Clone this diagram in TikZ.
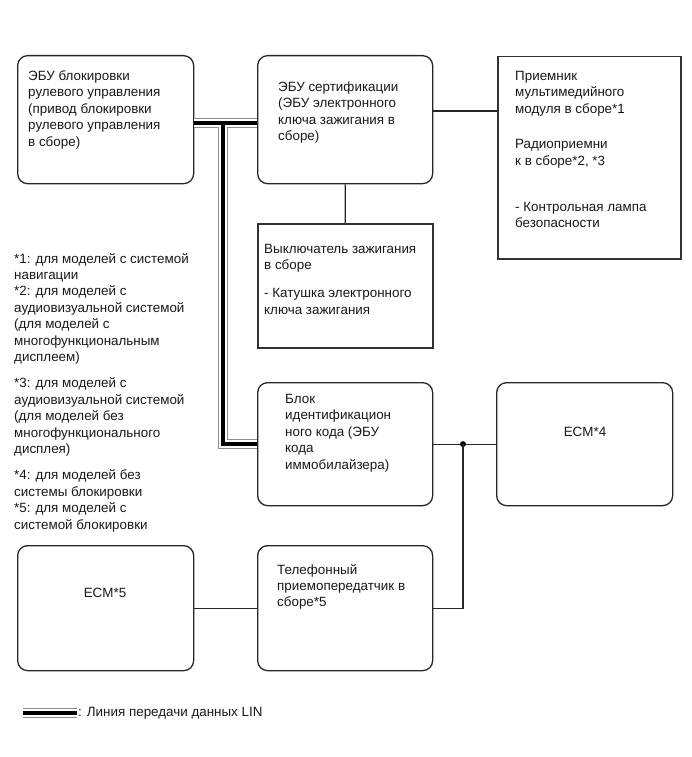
\documentclass[tikz,border=0pt]{standalone}
\usepackage{fontspec}
\setmainfont{Liberation Sans}
\begin{document}
\begin{tikzpicture}[x=1pt,y=-1pt,
  box/.style={draw=black!85, line width=1.3pt, rounded corners=10pt, fill=white, inner sep=0, anchor=north west},
  sqbox/.style={draw=black!80, line width=1.5pt, fill=white, inner sep=0, anchor=north west},
  txt/.style={anchor=north west, inner sep=0, align=left, text=black!90, font=\fontsize{13.4}{16.4}\selectfont},
  ctxt/.style={inner sep=0, text=black!90, font=\fontsize{13.4}{16.4}\selectfont},
  wire/.style={draw=black!85, line width=1.2pt},
  linG/.style={draw=black!45, line width=10pt},
  linW/.style={draw=white, line width=7.6pt},
  linB/.style={draw=black, line width=4pt}
]
\useasboundingbox (0,0) rectangle (691,757);

% boxes
\node[box, minimum width=176pt, minimum height=128pt] (steer) at (17,55) {};
\node[box, minimum width=175pt, minimum height=128pt] (cert) at (257,55) {};
\node[sqbox, minimum width=183pt, minimum height=202pt] (recv) at (497,56) {};
\node[sqbox, minimum width=175pt, minimum height=124pt] (ign) at (257,223) {};
\node[box, minimum width=175pt, minimum height=123pt] (idb) at (257,382) {};
\node[box, minimum width=176pt, minimum height=123pt] (ecmf) at (496,382) {};
\node[box, minimum width=176pt, minimum height=125pt] (ecmv) at (17,545) {};
\node[box, minimum width=175pt, minimum height=125pt] (tel) at (257,545) {};

% texts
\node[txt] (tsteer) at (28,70.5) {ЭБУ блокировки\\рулевого управления\\(привод блокировки\\рулевого управления\\в сборе)};
\node[txt] (tcert) at (278,81.5) {ЭБУ сертификации\\(ЭБУ электронного\\ключа зажигания в\\сборе)};
\node[txt] (trecv) at (515,71) {Приемник\\мультимедийного\\модуля в сборе*1\\[19pt]Радиоприемни\\к в сборе*2, *3\\[30pt]- Контрольная лампа\\безопасности};
\node[txt] (tign) at (264,244) {Выключатель зажигания\\в сборе\\[11.5pt]- Катушка электронного\\ключа зажигания};
\node[txt] (tid) at (285,394) {Блок\\идентификацион\\ного кода (ЭБУ\\кода\\иммобилайзера)};
\node[txt] (ttel) at (277,564) {Телефонный\\приемопередатчик в\\сборе*5};
\node[ctxt] (tecmf) at (585,432) {ECM*4};
\node[ctxt] (tecmv) at (105,593) {ECM*5};
\node[txt] (notes) at (14,253) {*1: для моделей с системой\\навигации\\*2: для моделей с\\аудиовизуальной системой\\(для моделей с\\многофункциональным\\дисплеем)\\[10pt]*3: для моделей с\\аудиовизуальной системой\\(для моделей без\\многофункционального\\дисплея)\\[10pt]*4: для моделей без\\системы блокировки\\*5: для моделей с\\системой блокировки};

% coordinates
\coordinate (yl) at (0,123);
\coordinate (xv) at (223,0);
\coordinate (yr) at (0,111);
\coordinate (legA) at (23,713);
\coordinate (legB) at (77,713);
\node[ctxt, anchor=west] (legt) at (78,713) {: Линия передачи данных LIN};

% LIN bus
\foreach \s in {linG,linW,linB}{
  \draw[\s] (steer.east |- yl) -- (cert.west |- yl);
  \draw[\s] (xv |- yl) -- (xv |- idb.west) -- (idb.west);
  \draw[\s] (legA) -- (legB);
}

% ordinary wires
\draw[wire] (cert.south) -- (ign.north);
\draw[wire] (cert.east |- yr) -- (recv.west |- yr);
\draw[wire] (idb.east) -- (ecmf.west);
\coordinate (jx) at (463,0);
\coordinate (dot) at (jx |- idb.east);
\fill (dot) circle (3pt);
\draw[wire] (dot) |- (tel.east);
\draw[wire] (ecmv.east) -- (tel.west);
\end{tikzpicture}
\end{document}
